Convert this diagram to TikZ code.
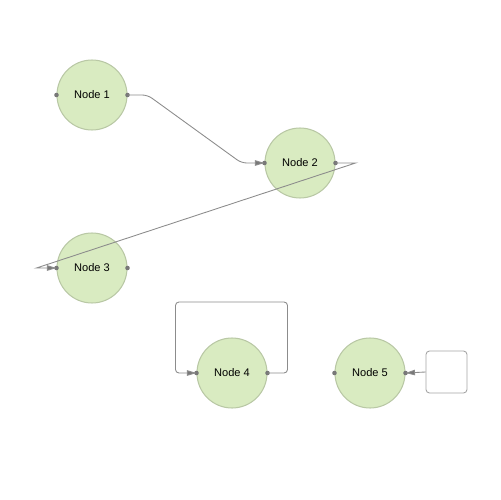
\documentclass[tikz,border=0pt]{standalone}
\usepackage{fontspec}
\setmainfont{Liberation Sans}
\usetikzlibrary{positioning,arrows.meta,calc}
\definecolor{nodefill}{RGB}{217,235,193}
\definecolor{nodeline}{RGB}{185,200,165}
\definecolor{wire}{RGB}{140,140,140}
\definecolor{portgray}{RGB}{120,120,120}

\begin{document}
\begin{tikzpicture}[
  x=0.02cm, y=-0.02cm,
  font=\fontsize{6.3}{8}\selectfont,
  vtx/.style={circle, draw=nodeline, fill=nodefill, line width=0.6pt, minimum size=1.4cm, inner sep=0pt},
  port/.style={circle, fill=portgray, inner sep=0pt, minimum size=2.6pt},
  wirearr/.style={draw=wire, line width=0.5pt, -{Triangle[length=1.9mm, width=1.1mm, fill=portgray]}},
  emptybox/.style={draw=wire!80, rounded corners=2pt, line width=0.5pt, minimum width=0.82cm, minimum height=0.84cm}]
\useasboundingbox (0,0) rectangle (500,500);
% vertices
\node[vtx] (n1) at (92,95) {Node 1};
\node[vtx] (n2) at (300,163) {Node 2};
\node[vtx] (n3) at (92,268) {Node 3};
\node[vtx] (n4) at (232,373) {Node 4};
\node[vtx] (n5) at (370,373) {Node 5};
\node[emptybox] (b5) at (446.5,372) {};
% ports
\node[port] (n1-in) at (n1.west) {};
\node[port] (n1-out) at (n1.east) {};
\node[port] (n2-in) at (n2.west) {};
\node[port] (n2-out) at (n2.east) {};
\node[port] (n3-in) at (n3.west) {};
\node[port] (n3-out) at (n3.east) {};
\node[port] (n4-in) at (n4.west) {};
\node[port] (n4-out) at (n4.east) {};
\node[port] (n5-out) at (n5.west) {};
\node[port] (n5-in) at (n5.east) {};
% wires
\draw[wirearr, rounded corners=3pt] (n1-out.center) -- ++(20,0) -- ($(n2-in.center)+(-23,0)$) -- (n2-in.center);
\draw[wirearr] (n2-out.center) -- ++(20,0) -- ($(n3-in.center)+(-20,0)$) -- (n3-in.center);
\draw[wirearr, rounded corners=2pt] (n4-out.center) -- ++(20,0) -- ++(0,-71) -- ($(n4-in.center)+(-21,-71)$) -- ($(n4-in.center)+(-21,0)$) -- (n4-in.center);
\draw[wirearr] (b5.west) -- (n5-in.center);
\end{tikzpicture}
\end{document}
